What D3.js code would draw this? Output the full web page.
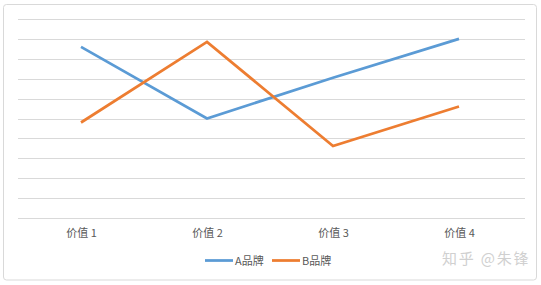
<!DOCTYPE html>
<html><head><meta charset="utf-8">
<script src="https://cdn.jsdelivr.net/npm/d3@7"></script>
<style>
html,body{margin:0;padding:0;background:#fff;}
svg{display:block;}
</style></head>
<body>
<svg id="chart" width="541" height="285"></svg>
<script>
const categories = ["价值 1", "价值 2", "价值 3", "价值 4"];
const seriesNames = ["A品牌", "B品牌"];
const seriesA = [8.6, 5.0, 7.05, 9.0];
const seriesB = [4.8, 8.85, 3.62, 5.6];
const yTicks = [0,1,2,3,4,5,6,7,8,9,10];
const colors = ["#5B9BD5", "#ED7D31"];

(function(){
const svg = d3.select("#chart");
const font = "'Noto Sans CJK SC', 'Microsoft YaHei', sans-serif";

// chart border
svg.append("rect").attr("x", 3.5).attr("y", 4.5).attr("width", 533).attr("height", 275.5)
  .attr("rx", 3).attr("fill", "#fff").attr("stroke", "#d9d9d9").attr("stroke-width", 1);

const pLeft = 18, pRight = 522, pTop = 19, pBottom = 218;
const x = d3.scalePoint().domain(categories).range([pLeft, pRight]).padding(0.5);
const y = d3.scaleLinear().domain([0, 10]).range([pBottom, pTop]);

// gridlines
svg.append("g").selectAll("line").data(yTicks).join("line")
  .attr("x1", pLeft).attr("x2", pRight + 3)
  .attr("y1", d => Math.round(y(d)) + 0.5).attr("y2", d => Math.round(y(d)) + 0.5)
  .attr("stroke", "#d9d9d9").attr("stroke-width", 1);

// x axis labels
const xAxis = d3.axisBottom(x).tickSize(0).tickPadding(0);
const gx = svg.append("g").attr("transform", `translate(0,${pBottom + 19})`).call(xAxis);
gx.select(".domain").remove();
gx.selectAll("text").attr("fill", "#595959").attr("font-size", 11).attr("font-family", font)
  .attr("dy", 0);

const line = d3.line().x((d, i) => x(categories[i])).y(d => y(d));
[seriesA, seriesB].forEach((s, k) => {
  svg.append("path").datum(s).attr("d", line).attr("fill", "none")
    .attr("stroke", colors[k]).attr("stroke-width", 2.75).attr("stroke-linejoin", "miter");
});

// legend
const legend = [{x0: 205, name: seriesNames[0], c: colors[0]}, {x0: 272, name: seriesNames[1], c: colors[1]}];
legend.forEach(l => {
  svg.append("line").attr("x1", l.x0).attr("x2", l.x0 + 28).attr("y1", 260.5).attr("y2", 260.5)
    .attr("stroke", l.c).attr("stroke-width", 2.75);
  svg.append("text").attr("x", l.x0 + 30).attr("y", 265).text(l.name)
    .attr("font-size", 11).attr("fill", "#595959").attr("font-family", font);
});

// watermark
svg.append("text").attr("x", 442).attr("y", 264).text("知乎 @朱锋")
  .attr("font-size", 15).attr("letter-spacing", 1.8).attr("fill", "#d0d0d0").attr("font-family", font);
})();
</script>
</body></html>
